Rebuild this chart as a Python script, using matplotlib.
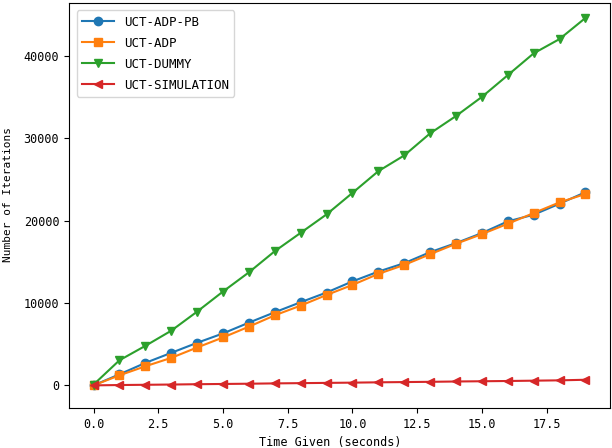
import matplotlib
matplotlib.use("Agg")
import matplotlib.pyplot as plt

plt.rcParams['font.family'] = ['DejaVu Sans Mono']

time_given = list(range(20))
uct_adp_pb = [0, 1340, 2730, 3950, 5170, 6310, 7620, 8880, 10100, 11280,
              12630, 13820, 14840, 16180, 17280, 18500, 19920, 20730, 22070, 23460]
uct_adp = [0, 1220, 2320, 3340, 4600, 5820, 7130, 8510, 9690, 10980,
           12200, 13540, 14630, 15930, 17200, 18370, 19630, 20930, 22230, 23250]
uct_dummy = [100, 3050, 4800, 6640, 8960, 11400, 13730, 16300, 18530, 20770,
             23380, 26020, 27930, 30610, 32720, 35040, 37680, 40330, 42070, 44630]
uct_simulation = [0, 40, 70, 100, 140, 170, 200, 240, 270, 300,
                  330, 370, 400, 430, 470, 500, 530, 570, 610, 680]

fig = plt.figure(figsize=(6.12, 4.48), dpi=100)
ax = fig.add_axes([69/612, 40/448, (610-69)/612, (405)/448])

ax.plot(time_given, uct_adp_pb, marker='o', label='UCT-ADP-PB')
ax.plot(time_given, uct_adp, marker='s', label='UCT-ADP')
ax.plot(time_given, uct_dummy, marker='v', label='UCT-DUMMY')
ax.plot(time_given, uct_simulation, marker='<', label='UCT-SIMULATION')

ax.set_ylim(-2750, 46450)
ax.set_xlabel('Time Given (seconds)', fontsize=8.5)
ax.set_ylabel('Number of Iterations', fontsize=8)
ax.xaxis.set_label_coords(0.482, -0.068)
ax.yaxis.set_label_coords(-0.103, 0.526)
ax.tick_params(labelsize=8.5)
ax.legend(loc='upper left', fontsize=9, labelspacing=0.65, handlelength=2.6,
          borderaxespad=0.6)

fig.savefig('out.png', dpi=100)
